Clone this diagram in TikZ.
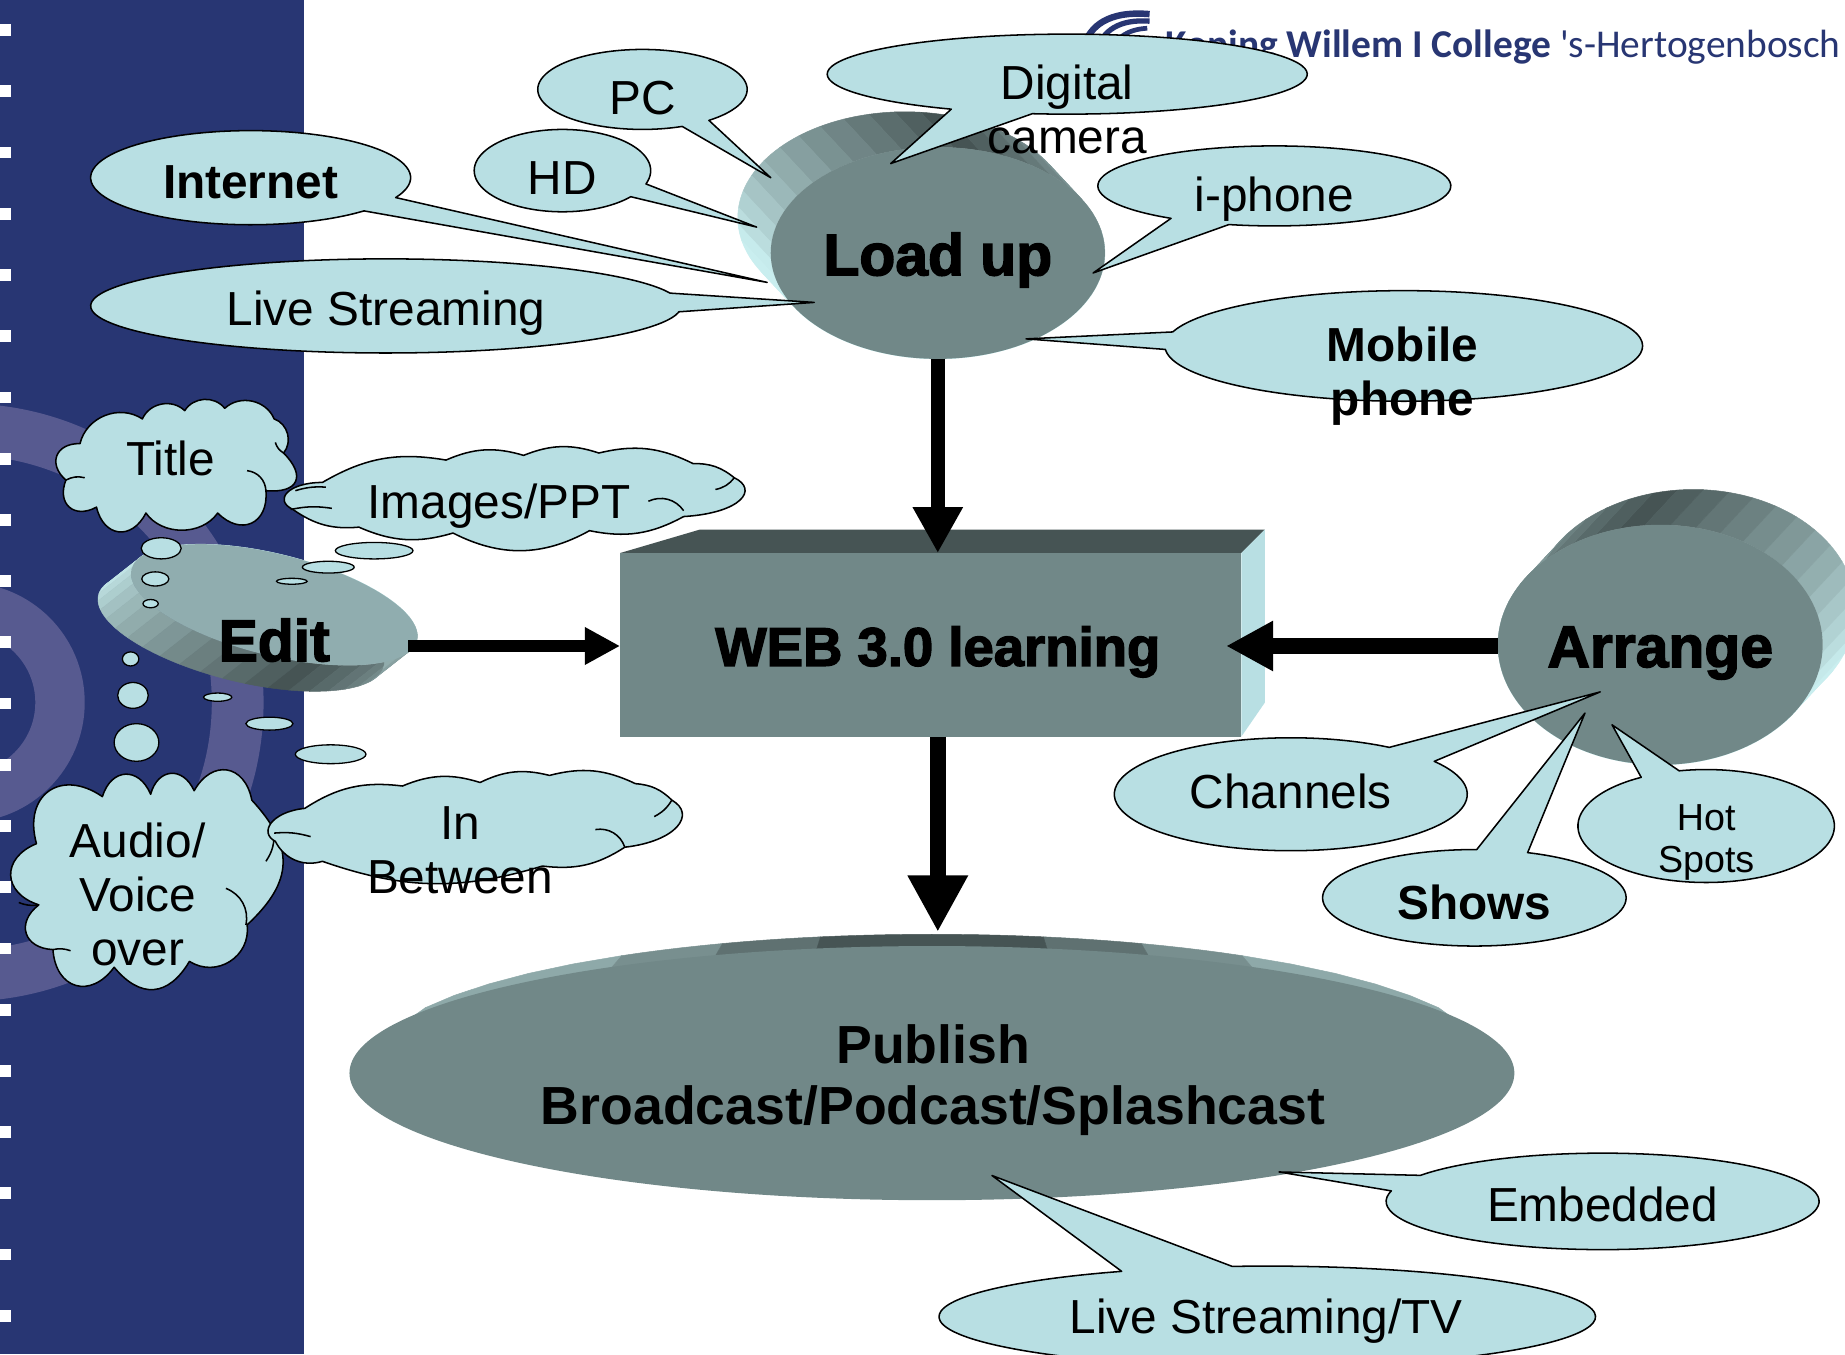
\documentclass[tikz,border=0pt]{standalone}
\usepackage{fontspec}
\usetikzlibrary{arrows.meta,shapes.geometric}
\setmainfont{Liberation Sans}
\newfontfamily\heavy[FakeBold=2.5]{Liberation Sans Bold}
\newfontfamily\logofont{Carlito}
\definecolor{stripc}{HTML}{283673}
\definecolor{ringc}{HTML}{575A90}
\definecolor{tealc}{HTML}{718888}
\definecolor{editc}{HTML}{90ADAF}
\definecolor{bubc}{HTML}{B8DFE3}
\definecolor{darkc}{HTML}{465454}
\definecolor{lightc}{HTML}{C9EEEF}
\tikzset{
  lab/.style={inner sep=0,outer sep=0,align=center,font=\fontsize{40.6}{46}\selectfont},
  blab/.style={lab,font=\fontsize{40.6}{46}\selectfont\bfseries},
  hlab/.style={inner sep=0,outer sep=0,align=center,font=\fontsize{50}{56}\selectfont\heavy},
  plab/.style={inner sep=0,outer sep=0,align=center,font=\fontsize{45.6}{52}\selectfont\bfseries},
  bub/.style={draw=black,fill=bubc,line width=1.3pt,line join=round},
  body/.style={ellipse,fill=tealc,inner sep=0,outer sep=0},
  puff/.style={bend left=70,looseness=1.6},
  tpuff/.style={bend left=55,looseness=1.05},
  flat/.style={bend left=20,looseness=1},
  tick/.style={draw=black,line width=1.3pt,bend left=40},
  fatarrow/.style={line width=#1,draw=black},
}
% extruded band of an ellipse: cx cy rx ry rot dx dy a0 range
\newcommand\extrude[9]{%
  \pgfmathtruncatemacro\xn{round(360/\xstep)-1}%
  \foreach \k in {0,...,\xn}{%
    \pgfmathsetmacro\ad{min(\k*\xstep,360-\k*\xstep)}%
    \pgfmathtruncatemacro\mixv{100*min(1,\ad/#9)}%
    \pgfmathsetmacro\aA{#8+\k*\xstep-\xstep/2}%
    \pgfmathsetmacro\aB{\aA+\xstep}%
    \filldraw[line width=.4pt,draw=lightc!\mixv!darkc,fill=lightc!\mixv!darkc]
      plot[domain=\aA:\aB,samples=5] ({#1+#3*cos(\x)*cos(#5)+#4*sin(\x)*sin(#5)},{#2+#3*cos(\x)*sin(#5)-#4*sin(\x)*cos(#5)})
      -- plot[domain=\aB:\aA,samples=5] ({#6+#1+#3*cos(\x)*cos(#5)+#4*sin(\x)*sin(#5)},{#7+#2+#3*cos(\x)*sin(#5)-#4*sin(\x)*cos(#5)})
      -- cycle;
  }%
}
% speech bubble: cx cy rx ry  base1x base1y base2x base2y, then {tipx,tipy}
\newcommand\bubble[9]{%
  \pgfmathsetmacro\bA{atan2((#6-#2)/#4,(#5-#1)/#3)}%
  \pgfmathsetmacro\bB{atan2((#8-#2)/#4,(#7-#1)/#3)}%
  \pgfmathsetmacro\bD{mod(\bB-\bA+720,360)}%
  \pgfmathsetmacro\bE{\bD<180?\bA+\bD-360:\bA+\bD}%
  \draw[bub] (#9) -- plot[domain=\bA:\bE,samples=90,smooth] ({#1+#3*cos(\x)},{#2+#4*sin(\x)}) -- cycle;
}
\begin{document}
\begin{tikzpicture}[x=1pt,y=-1pt]
\useasboundingbox (0,0) rectangle (1568,1151);
\clip (0,0) rectangle (1568,1151);
\fill[white] (0,0) rectangle (1568,1151);
% side strip
\fill[stripc] (0,0) rectangle (258,1151);
\begin{scope}
  \clip (0,0) rectangle (258,1151);
  \fill[ringc,even odd rule] (-30pt,-597pt) circle[radius=254pt] (-30pt,-597pt) circle[radius=210pt];
  \fill[ringc,even odd rule] (-30pt,-597pt) circle[radius=102pt] (-30pt,-597pt) circle[radius=60pt];
\end{scope}
\foreach \k in {0,...,21}{\fill[white] (0,{20.6+52.03*\k}) rectangle (9,{30.6+52.03*\k});}
% logo
\draw[stripc,line width=5.5pt] (921,40) .. controls (926,22) and (942,9) .. (977,12);
\draw[stripc,line width=4.5pt] (933,40) .. controls (938,27) and (950,16) .. (977,18);
\draw[stripc,line width=4pt] (946,40) .. controls (950,32) and (958,25) .. (975,24);
\node[inner sep=0,anchor=base west,text=stripc,font=\fontsize{33.5}{40}\logofont] (logo) at (990,49)
  {\textbf{Koning Willem I College} 's-Hertogenbosch};
% Load up
\def\xstep{9}
\extrude{797}{215}{142}{90}{0}{-28}{-30}{80}{110}
\node[body,minimum width=284pt,minimum height=180pt] (load) at (797,215) {};
% Arrange
\extrude{1411}{548}{138}{102}{0}{28}{-30}{100}{120}
\node[body,minimum width=276pt,minimum height=204pt] (arrange) at (1411,548) {};
% Edit
\extrude{233}{514}{125}{43}{14}{-28}{22}{-70}{125}
\node[body,fill=editc,rotate=-14,minimum width=250pt,minimum height=86pt] (edit) at (233,514) {};
% Publish: tapering bands behind the front ellipse
\foreach \p/\q/\m in {33.7/65/55,22/33.7/38,11.5/22/19,0/11.5/0}{
  \filldraw[line width=.4pt,draw=lightc!\m!darkc,fill=lightc!\m!darkc]
    plot[domain=90-\q:90-\p,samples=6] ({792+475*cos(\x)},{902-108*sin(\x)})
    -- plot[domain=90-\p:90-\q,samples=6] ({792+495*cos(\x)},{915-108*sin(\x)}) -- cycle;
  \filldraw[line width=.4pt,draw=lightc!\m!darkc,fill=lightc!\m!darkc]
    plot[domain=90+\p:90+\q,samples=6] ({792+475*cos(\x)},{902-108*sin(\x)})
    -- plot[domain=90+\q:90+\p,samples=6] ({792+495*cos(\x)},{915-108*sin(\x)}) -- cycle;
}
\node[body,minimum width=990pt,minimum height=216pt] (pub) at (792,912) {};
% WEB box
\fill[darkc] (527,470) -- (595,450) -- (1075,450) -- (1055,470) -- cycle;
\fill[bubc] (1055,470) -- (1075,450) -- (1075,597) -- (1055,626) -- cycle;
\node[fill=tealc,inner sep=0,outer sep=0,minimum width=528pt,minimum height=156pt] (web) at (791,548) {};
% arrows
\coordinate (edittip) at (347,549);
\coordinate (webhit) at (1042,549);
\coordinate (webtop) at (797,470);
\coordinate (webbot) at (797,626);
\coordinate (pubtip) at (797,792);
\draw[fatarrow=12pt,-{Triangle[length=39pt,width=40pt]}] (load.south) -- (webtop);
\draw[fatarrow=14pt,-{Triangle[length=48pt,width=48pt]}] (webbot) -- (pubtip);
\draw[fatarrow=10pt,-{Triangle[length=30pt,width=30pt]}] (edittip) -- (web.west |- edittip);
\draw[fatarrow=14pt,-{Triangle[length=40pt,width=40pt]}] (arrange.west |- webhit) -- (webhit);
% callouts
\bubble{546}{76}{89}{34}{575}{103}{604}{103}{655,151}
\bubble{478}{145}{75}{35}{533}{166}{547}{156}{643,193}
\bubble{213}{151}{136}{40}{312}{180}{337}{168}{652,240}
\bubble{328}{260}{251}{40}{572}{249}{578}{265}{692,257}
\bubble{907}{63}{204}{34}{811}{92}{877}{97}{757,139}
\bubble{1083}{158}{150}{34}{997}{185}{1043}{192}{929,232}
\bubble{1193}{294}{203}{47}{995}{282}{989}{297}{872,288}
\bubble{1097}{675}{150}{48}{1181}{635}{1219}{647}{1360,588}
\bubble{1253}{763}{129}{41}{1255}{722}{1299}{724}{1347,606}
\bubble{1450}{702}{109}{48}{1394}{660}{1427}{655}{1370,616}
\bubble{1362}{1021}{184}{41}{1208}{999}{1181}{1012}{1087,996}
\bubble{1077}{1119}{279}{43}{955}{1081}{1047}{1076}{843,999}
% clouds
\draw[bub] (68,377) to[tpuff] (121,356) to[tpuff] (157,349) to[tpuff] (191,347) to[tpuff] (233,356) to[tpuff] (241,385) to[bend left=70,looseness=2] (226,417) to[puff] (185,436) to[bend left=55] (124,436) to[puff] (82,431) to[puff] (56,408) to[puff] cycle;
\draw[tick] (210,400) to (226,417);
\draw[tick,bend left=20] (56,408) to (72,406);
\draw[tick,bend left=20] (241,385) to (234,376);
\draw[bub] (274,410) to[flat] (379,391) to[flat] (445,387) to[flat] (509,385) to[flat] (589,394) to[flat] (624,406) .. controls (645,416) and (630,436) .. (581,439) to[flat] (501,451) to[bend left=28] (385,453) to[flat] (305,448) to[flat] (249,433) .. controls (232,425) and (245,410) .. (274,410) -- cycle;
\draw[tick] (551,426) to (581,434);
\draw[tick,bend right=20] (608,416) to (624,406);
\draw[tick,bend left=10] (247,433) to (282,432);
\draw[tick,bend left=10] (251,417) to (277,414);
\draw[bub] (31,717) to[puff] (87,677) to[puff] (128,675) to[puff] (165,672) to[puff] (214,680) to[bend left=45,looseness=1.3] (210,786) to[bend left=65,looseness=1.2] (161,817) to[tpuff,looseness=1.4] (97,822) to[puff] (45,807) to[puff] (33,769) to[puff] cycle;
\draw[tick] (192,755) to (209,786);
\draw[tick,bend right=15] (226,732) to (233,711);
\draw[tick,bend left=15] (33,769) to (16,767);
\draw[tick,bend left=15] (45,807) to (60,808);
\draw[bub] (259,687) to[flat] (342,668) to[flat] (408,665) to[flat] (467,659) to[flat] (540,666) to[flat] (571,680) .. controls (592,692) and (575,715) .. (531,720) to[flat] (461,736) to[bend left=18] (274,732) to[bend left=40] (234,715) .. controls (220,708) and (230,690) .. (259,687) -- cycle;
\draw[tick] (506,705) to (531,720);
\draw[tick,bend right=15] (556,694) to (571,680);
\draw[tick,bend left=10] (233,708) to (264,711);
% thought dots
\foreach \n/\x/\y/\a/\b in {t1/137/466/17/9,t2/132/492/11.5/6,t3/128/513/6.5/3.5,
   i1/318/468/33/7,i2/279/482/22/5,i3/248/494/13/2.5,
   a1/111/560/7/6,a2/113/591/13/11,a3/116/631/19/16,
   b1/185/592.5/12/3.5,b2/229/615/20/5.5,b3/281/641/30/8}{
  \node[ellipse,draw=black,fill=bubc,line width=1.1pt,inner sep=0,minimum width=2*\a pt,minimum height=2*\b pt] (\n) at (\x,\y) {};
}
% texts
\node[lab] (tpc) at (546,83) {PC};
\node[lab] (thd) at (478,151) {HD};
\node[blab] (tint) at (213,155) {Internet};
\node[lab] (tlive) at (328,266) {Live Streaming};
\node[lab] (tcam) at (907,93) {Digital\\camera};
\node[lab] (tiph) at (1083,169) {i-phone};
\node[blab] (tmob) at (1192,320) {Mobile\\phone};
\node[lab] (tchan) at (1097,673) {Channels};
\node[blab] (tshow) at (1253,767) {Shows};
\node[lab,font=\fontsize{32}{35}\selectfont] (thot) at (1450,716) {Hot\\Spots};
\node[lab] (temb) at (1362,1024) {Embedded};
\node[lab] (ttv) at (1076,1123) {Live Streaming/TV};
\node[lab] (ttitle) at (145,390) {Title};
\node[lab] (timg) at (424,430) {Images/PPT};
\node[lab] (taud) at (117,760) {Audio/\\Voice\\over};
\node[lab] (tbet) at (391,723) {In\\Between};
\node[hlab] (tload) at (797,221) {Load up};
\node[hlab,font=\fontsize{46.3}{52}\selectfont\heavy] (tweb) at (797,554) {WEB 3.0 learning};
\node[hlab] (tarr) at (1411,555) {Arrange};
\node[hlab] (tedit) at (233,544) {Edit};
\node[plab] (tpub) at (793,918) {Publish\\Broadcast/Podcast/Splashcast};
\end{tikzpicture}
\end{document}
